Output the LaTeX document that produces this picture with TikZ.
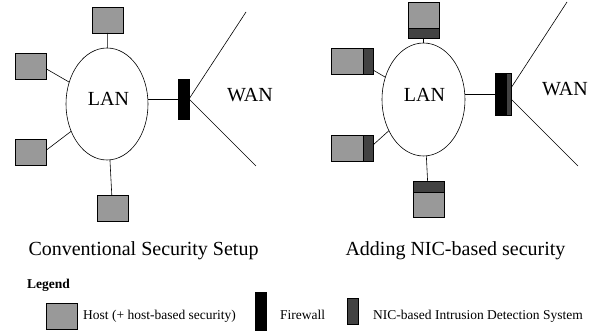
\documentclass[tikz,border=0pt]{standalone}
\usepackage{fontspec}
\setmainfont{Liberation Serif}
\usetikzlibrary{shapes.geometric}
\definecolor{hostgray}{gray}{0.6}
\definecolor{nicgray}{gray}{0.26}
\begin{document}
\begin{tikzpicture}[x=1pt,y=-1pt,
  box/.style={draw, line width=0.6pt, inner sep=0pt, outer sep=0pt},
  host/.style={box, fill=hostgray, minimum width=31pt, minimum height=26pt},
  nichost/.style={box, fill=hostgray},
  nicpart/.style={draw, line width=0.6pt, fill=nicgray},
  fwbox/.style={box, fill=black, minimum width=11pt, minimum height=40pt},
  lanell/.style={draw, ellipse, line width=0.6pt, inner sep=0pt, outer sep=0pt},
  link/.style={line width=0.6pt},
  bigtext/.style={font=\fontsize{20pt}{24pt}\selectfont, inner sep=0pt},
  smalltext/.style={font=\fontsize{13.5pt}{16pt}\selectfont, inner sep=0pt, anchor=base west}]
\useasboundingbox (0,0) rectangle (590,331);

% ---------- left diagram ----------
\node[lanell, minimum width=82pt, minimum height=112pt] (lan1) at (107,104) {};
\node[bigtext] (lan1t) at (108.5,99) {LAN};
\node[host] (t1) at (107.5,20) {};
\node[host] (l1) at (31,66) {};
\node[host] (l2) at (31,152.5) {};
\node[host] (b1) at (112.5,208.5) {};
\node[fwbox] (fw1) at (183.5,99) {};
\coordinate (w1a) at (246,12);
\coordinate (w1b) at (256,166);
\node[bigtext] (wan1) at (250,95.5) {WAN};

\draw[link] (t1) -- (lan1);
\draw[link] ([yshift=-3pt]l1.east) -- (lan1);
\draw[link] ([yshift=2.5pt]l2.east) -- (lan1);
\draw[link] (b1) -- (lan1);
\draw[link] (fw1.west) -- (fw1.west -| lan1.east);
\draw[link] (fw1.east) -- (w1a);
\draw[link] (fw1.east) -- (w1b);

% ---------- right diagram ----------
\node[lanell, minimum width=83pt, minimum height=113pt] (lan2) at (423.5,99.5) {};
\node[bigtext] (lan2t) at (424.5,95) {LAN};
\node[nichost, minimum width=31pt, minimum height=36pt] (t2) at (423.5,20) {};
\draw[nicpart] ([yshift=10pt]t2.south west) rectangle (t2.south east);
\node[nichost, minimum width=42pt, minimum height=26pt] (l3) at (352,61) {};
\draw[nicpart] ([xshift=-10pt]l3.north east) rectangle (l3.south east);
\node[nichost, minimum width=42pt, minimum height=26pt] (l4) at (352,148) {};
\draw[nicpart] ([xshift=-10pt]l4.north east) rectangle (l4.south east);
\node[nichost, minimum width=31pt, minimum height=36pt] (b2) at (428.5,199) {};
\draw[nicpart] (b2.north west) rectangle ([yshift=-11pt]b2.north east);
\node[box, fill=black, minimum width=16pt, minimum height=42pt] (fw2) at (503,94) {};
\draw[nicpart] ([xshift=-5pt]fw2.north east) rectangle (fw2.south east);
\coordinate (w2a) at (567,2);
\coordinate (w2b) at (578,166);
\node[bigtext] (wan2) at (565,89.5) {WAN};

\draw[link] (t2) -- (lan2);
\draw[link] ([yshift=-9pt]l3.east) -- (lan2);
\draw[link] ([yshift=3pt]l4.east) -- (lan2);
\draw[link] (b2) -- (lan2);
\draw[link] (fw2.west) -- (fw2.west -| lan2.east);
\draw[link] ([yshift=6pt]fw2.east) -- (w2a);
\draw[link] ([yshift=-5pt]fw2.east) -- (w2b);

% ---------- captions ----------
\node[bigtext, anchor=base] (cap1) at (143.5,256) {Conventional Security Setup};
\node[bigtext, anchor=base] (cap2) at (455.5,256) {Adding NIC-based security};

% ---------- legend ----------
\node[smalltext, font=\fontsize{13.5pt}{16pt}\selectfont\bfseries] (leg) at (27,288.5) {Legend};
\node[host] (lhost) at (61.5,316) {};
\node[smalltext] (lhostt) at (83,320) {Host (+ host-based security)};
\node[box, fill=black, minimum width=11pt, minimum height=42pt] (lfw) at (260.5,313) {};
\node[smalltext] (lfwt) at (280,320) {Firewall};
\node[box, fill=nicgray, minimum width=11pt, minimum height=26pt] (lnic) at (352.5,311) {};
\node[smalltext] (lnict) at (373,320) {NIC-based Intrusion Detection System};
\end{tikzpicture}
\end{document}
